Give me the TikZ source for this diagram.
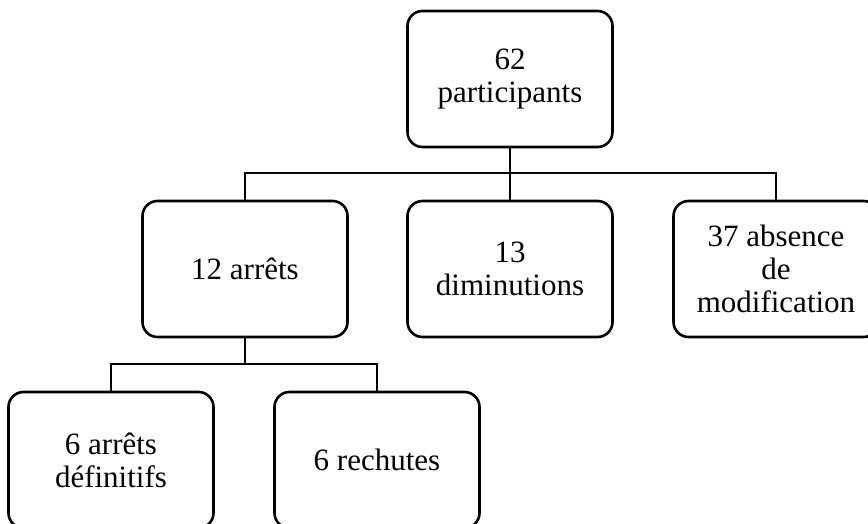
\documentclass[tikz,border=0pt]{standalone}
\usepackage{fontspec}
\setmainfont{Liberation Serif}
\begin{document}
\begin{tikzpicture}[x=1pt,y=-1pt,
  box/.style={draw, line width=2.6pt, rounded corners=15pt, minimum width=205pt, minimum height=136pt,
    align=center, inner sep=2pt, font=\fontsize{31}{33}\selectfont},
  conn/.style={line width=2.6pt}]
\useasboundingbox (0,0) rectangle (868,524);
\node[box] (top) at (510,79) {62\\participants};
\node[box] (m1) at (245,269) {12 arrêts};
\node[box] (m2) at (510,269) {13\\diminutions};
\node[box] (m3) at (776,269) {37 absence\\de\\modification};
\node[box] (b1) at (111,460) {6 arrêts\\définitifs};
\node[box] (b2) at (377,460) {6 rechutes};
\coordinate (j) at (510,173);
\coordinate (k) at (245,364);
\draw[conn] (top.south) -- (j);
\draw[conn] (j) -- (m2.north);
\draw[conn] (m1.north) |- (j) -| (m3.north);
\draw[conn] (m1.south) -- (k);
\draw[conn] (b1.north) |- (k) -| (b2.north);
\end{tikzpicture}
\end{document}
